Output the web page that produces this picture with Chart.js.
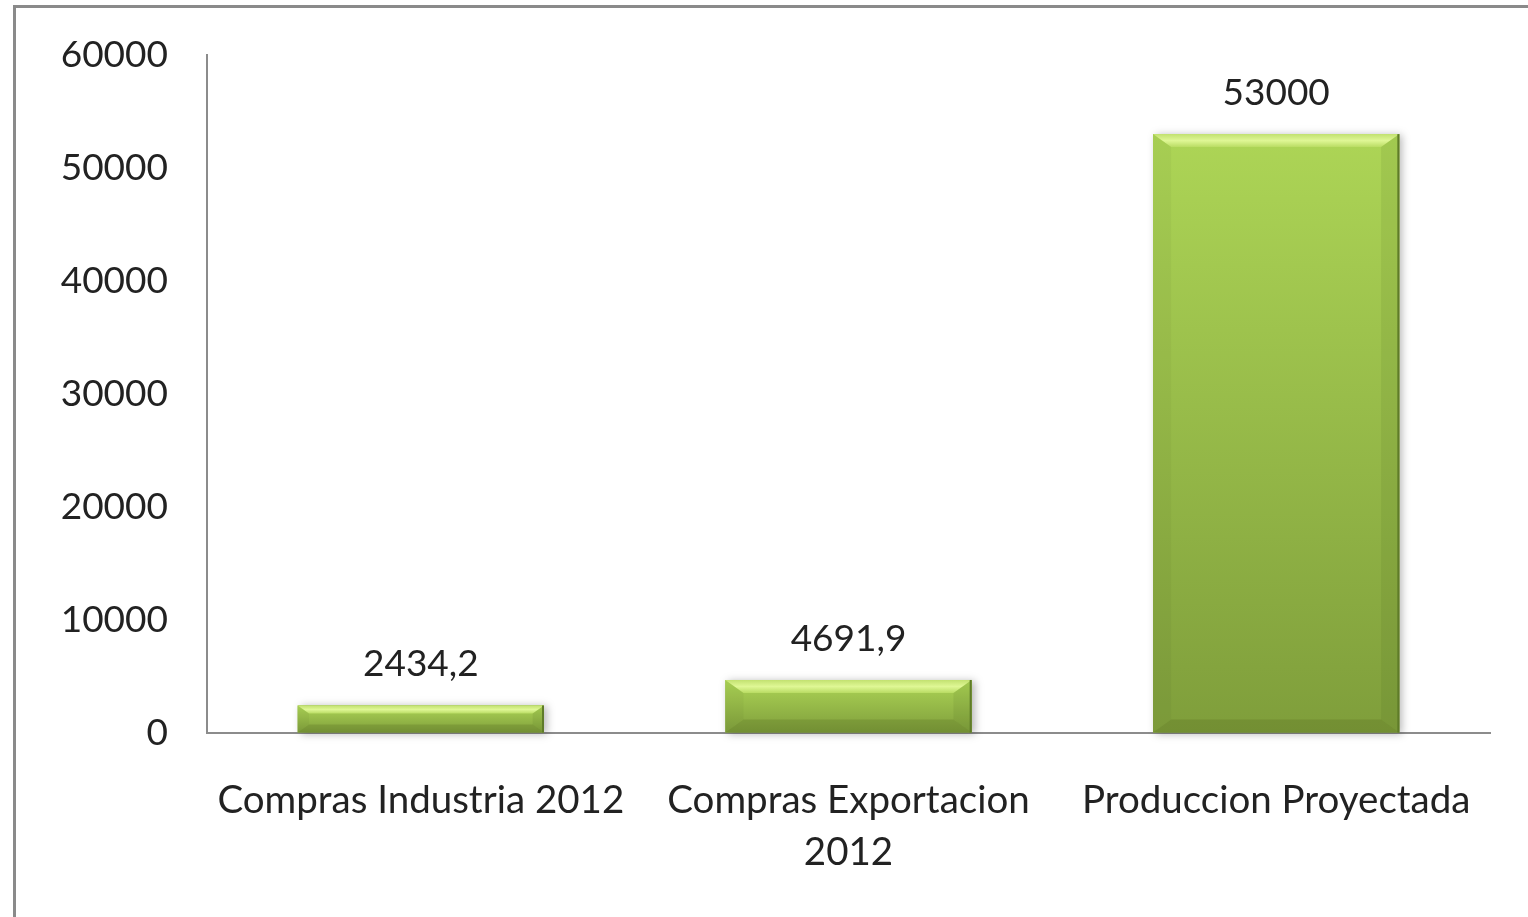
<!DOCTYPE html>
<html>
<head>
<meta charset="utf-8">
<script src="https://cdn.jsdelivr.net/npm/chart.js@4.4.0/dist/chart.umd.min.js"></script>
<style>
  html, body { margin: 0; padding: 0; background: #fff; overflow: hidden; }
  #frame { position: absolute; left: 13px; top: 5px; width: 1600px; height: 1000px; border: 3px solid #8a8a8a; }
  #wrap { position: absolute; left: 0; top: 0; width: 1528px; height: 917px; }
</style>
</head>
<body>
<div id="frame"></div>
<div id="wrap"><canvas id="chart"></canvas></div>
<script>
// datos del grafico
const categorias = ['Compras Industria 2012', ['Compras Exportacion', '2012'], 'Produccion Proyectada'];
const valores = [2434.2, 4691.9, 53000];
const ejeY = { min: 0, max: 60000, paso: 10000 };

const fuente = { family: 'Lato, "Open Sans", sans-serif', size: 37 };
const colorTexto = '#222';

// relieve de las barras (gradiente + biseles)
const relieveBarras = {
    id: 'relieveBarras',
    afterDatasetsDraw(chart) {
        const ctx = chart.ctx;
        chart.getDatasetMeta(0).data.forEach(bar => {
            const L = bar.x - bar.width / 2, R = bar.x + bar.width / 2;
            const T = bar.y, B = bar.base, h = B - T;
            const b = Math.min(13, h * 0.3);

            ctx.save();
            const g = ctx.createLinearGradient(0, T, 0, B);
            g.addColorStop(0, '#add556');
            g.addColorStop(1, '#7f9e3b');
            ctx.shadowColor = 'rgba(0,0,0,0.28)';
            ctx.shadowBlur = 8;
            ctx.shadowOffsetX = 3;
            ctx.shadowOffsetY = 1;
            ctx.fillStyle = g;
            ctx.fillRect(L, T, R - L, h);
            ctx.restore();

            ctx.save();
            // bisel superior
            const gt = ctx.createLinearGradient(0, T, 0, T + b);
            gt.addColorStop(0, '#c2e170');
            gt.addColorStop(0.5, '#dff795');
            gt.addColorStop(1, '#b9dc63');
            ctx.fillStyle = gt;
            ctx.beginPath();
            ctx.moveTo(L, T); ctx.lineTo(R, T); ctx.lineTo(R - b * 1.4, T + b); ctx.lineTo(L + b * 1.4, T + b);
            ctx.closePath(); ctx.fill();
            // bisel izquierdo
            ctx.fillStyle = 'rgba(0,0,0,0.03)';
            ctx.beginPath();
            ctx.moveTo(L, T); ctx.lineTo(L + b * 1.4, T + b); ctx.lineTo(L + b * 1.4, B - b); ctx.lineTo(L, B);
            ctx.closePath(); ctx.fill();
            // bisel derecho
            ctx.fillStyle = 'rgba(40,60,10,0.08)';
            ctx.beginPath();
            ctx.moveTo(R, T); ctx.lineTo(R - b * 1.4, T + b); ctx.lineTo(R - b * 1.4, B - b); ctx.lineTo(R, B);
            ctx.closePath(); ctx.fill();
            // bisel inferior
            ctx.fillStyle = 'rgba(40,60,10,0.14)';
            ctx.beginPath();
            ctx.moveTo(L, B); ctx.lineTo(L + b * 1.4, B - b); ctx.lineTo(R - b * 1.4, B - b); ctx.lineTo(R, B);
            ctx.closePath(); ctx.fill();
            // borde oscuro derecho
            ctx.fillStyle = '#5f7b29';
            ctx.fillRect(R - 2, T, 2, h);
            ctx.restore();
        });
    },
    afterDraw(chart) {
        const ctx = chart.ctx;
        ctx.save();
        ctx.font = fuente.size + 'px ' + fuente.family;
        ctx.fillStyle = colorTexto;
        ctx.textAlign = 'center';
        ctx.textBaseline = 'middle';
        chart.getDatasetMeta(0).data.forEach((bar, i) => {
            ctx.fillText(String(valores[i]).replace('.', ','), bar.x, bar.y - 41);
        });
        ctx.restore();
    }
};

new Chart(document.getElementById('chart'), {
    type: 'bar',
    data: {
        labels: categorias,
        datasets: [{
            data: valores,
            backgroundColor: '#98bf48',
            borderWidth: 0,
            barPercentage: 0.64,
            categoryPercentage: 0.9
        }]
    },
    options: {
        responsive: true,
        maintainAspectRatio: false,
        animation: false,
        layout: { padding: { top: 55, right: 38, left: 0, bottom: 0 } },
        plugins: { legend: { display: false }, tooltip: { enabled: false } },
        scales: {
            x: {
                grid: { display: false, drawTicks: false },
                border: { display: true, color: '#8c8c8c', width: 2 },
                ticks: { color: colorTexto, font: { ...fuente, size: 38.5, lineHeight: 1.36 }, padding: 41, maxRotation: 0, autoSkip: false },
                afterFit(scale) { scale.height = 184; }
            },
            y: {
                min: ejeY.min,
                max: ejeY.max,
                // lineas de rejilla invisibles: solo sirven para separar las etiquetas del eje
                grid: { display: true, color: 'rgba(0,0,0,0)', drawTicks: true, tickLength: 39 },
                border: { display: true, color: '#8c8c8c', width: 2 },
                ticks: { stepSize: ejeY.paso, color: colorTexto, font: fuente, padding: 0, callback: v => String(v) },
                afterFit(scale) { scale.width = 207; }
            }
        }
    },
    plugins: [relieveBarras]
});
</script>
</body>
</html>
